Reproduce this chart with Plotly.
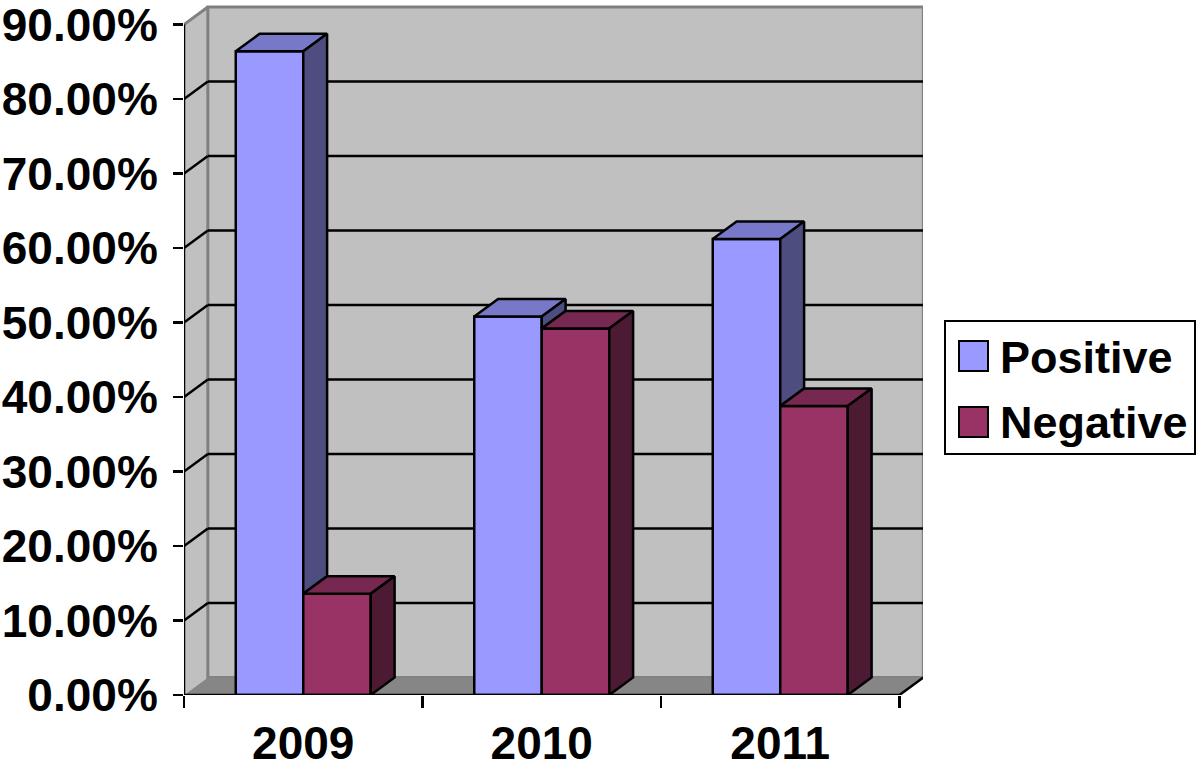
import plotly.graph_objects as go

# ---- data ----
categories = ["2009", "2010", "2011"]
positive = [86.4, 50.8, 61.2]
negative = [13.6, 49.2, 38.8]
y_ticks = [0, 10, 20, 30, 40, 50, 60, 70, 80, 90]
y_ticktext = ["%.2f%%" % v for v in y_ticks]
series_names = ["Positive", "Negative"]

# ---- style ----
POS_FRONT, POS_TOP, POS_SIDE = "#9999FF", "#7878C8", "#4D4D80"
NEG_FRONT, NEG_TOP, NEG_SIDE = "#993366", "#772850", "#4D1A33"
WALL, FLOOR, EDGE = "#C0C0C0", "#868686", "#808080"
BW = 0.283          # bar width in category units
DX, DY = 0.1, 2.35  # depth offset (x in category units, y in value units)
LW = 2.5
FONT = dict(family="Liberation Sans, Arial, sans-serif", size=46, color="black", weight="bold")
LEG_FONT = dict(FONT, size=45)

L, R, T, B = 184, 277, 4, 80
W, H = 1200, 775
pw, ph = W - L - R, H - T - B
x_min = -0.5
x_max = x_min + pw / 238.5
y_max = ph / 7.45
ymax_axis = y_ticks[-1]
n = len(categories)
xs = list(range(n))

fig = go.Figure()

# front faces
fig.add_trace(go.Bar(x=xs, y=positive, width=BW, offset=-BW, name=series_names[0],
                     marker=dict(color=POS_FRONT, line=dict(color="black", width=LW)),
                     showlegend=False))
fig.add_trace(go.Bar(x=xs, y=negative, width=BW, offset=0, name=series_names[1],
                     marker=dict(color=NEG_FRONT, line=dict(color="black", width=LW)),
                     showlegend=False))

def poly(px, py, color):
    fig.add_trace(go.Scatter(x=px + [px[0]], y=py + [py[0]], mode="lines", fill="toself",
                             fillcolor=color, line=dict(color="black", width=LW),
                             hoverinfo="skip", showlegend=False))

# positive tops and (visible part of) sides
for i in xs:
    xl, xr = i - BW, i
    v = positive[i]
    poly([xl, xr, xr + DX, xl + DX], [v, v, v + DY, v + DY], POS_TOP)
    base = min(negative[i], v)
    poly([xr, xr + DX, xr + DX, xr], [base, base + DY, v + DY, v], POS_SIDE)
# negative tops and sides
for i in xs:
    xl, xr = i, i + BW
    v = negative[i]
    poly([xl, xr, xr + DX, xl + DX], [v, v, v + DY, v + DY], NEG_TOP)
    poly([xr, xr + DX, xr + DX, xr], [0, DY, v + DY, v], NEG_SIDE)

shapes = []
xa, xb = -0.5, n - 0.5
# left wall
shapes.append(dict(type="path", layer="below", xref="x", yref="y",
                   path=f"M{xa},0 L{xa+DX},{DY} L{xa+DX},{ymax_axis+DY} L{xa},{ymax_axis} Z",
                   fillcolor=WALL, line=dict(width=0)))
# back wall
shapes.append(dict(type="rect", layer="below", xref="x", yref="y",
                   x0=xa + DX, x1=xb + DX, y0=DY, y1=ymax_axis + DY,
                   fillcolor=WALL, line=dict(color=EDGE, width=3)))
# left wall top edge
shapes.append(dict(type="line", layer="below", xref="x", yref="y",
                   x0=xa, y0=ymax_axis, x1=xa + DX, y1=ymax_axis + DY,
                   line=dict(color=EDGE, width=3)))
# floor
shapes.append(dict(type="path", layer="below", xref="x", yref="y",
                   path=f"M{xa},0 L{xb},0 L{xb+DX},{DY} L{xa+DX},{DY} Z",
                   fillcolor=FLOOR, line=dict(width=0)))
# gridlines
for v in y_ticks[1:-1]:
    shapes.append(dict(type="line", layer="below", xref="x", yref="y",
                       x0=xa + DX, y0=v + DY, x1=xb + DX, y1=v + DY,
                       line=dict(color="black", width=LW)))
    shapes.append(dict(type="line", layer="below", xref="x", yref="y",
                       x0=xa, y0=v, x1=xa + DX, y1=v + DY,
                       line=dict(color="black", width=LW)))
# floor right diagonal, axis lines
shapes.append(dict(type="line", layer="below", xref="x", yref="y",
                   x0=xb, y0=0, x1=xb + DX, y1=DY, line=dict(color="black", width=LW)))
shapes.append(dict(type="line", layer="above", xref="x", yref="y",
                   x0=xa, y0=0, x1=xb, y1=0, line=dict(color="black", width=LW)))
shapes.append(dict(type="line", layer="above", xref="x", yref="y",
                   x0=xa, y0=0, x1=xa, y1=ymax_axis, line=dict(color="black", width=LW)))

# legend (manual, pixel-positioned)
def px2x(p):
    return (p - L) / pw
def py2y(p):
    return (H - B - p) / ph

shapes.append(dict(type="rect", xref="paper", yref="paper",
                   x0=px2x(945), x1=px2x(1195), y0=py2y(454), y1=py2y(321),
                   fillcolor="white", line=dict(color="black", width=2)))
annotations = []
leg_colors = [POS_FRONT, NEG_FRONT]
leg_cy = [356, 422]
for name, col, cy in zip(series_names, leg_colors, leg_cy):
    shapes.append(dict(type="rect", xref="paper", yref="paper",
                       x0=px2x(959), x1=px2x(988), y0=py2y(cy + 15), y1=py2y(cy - 15),
                       fillcolor=col, line=dict(color="black", width=2)))
    annotations.append(dict(xref="paper", yref="paper", x=px2x(998), y=py2y(cy + 1),
                            xanchor="left", yanchor="middle", text=name, showarrow=False,
                            font=LEG_FONT))

fig.update_layout(
    width=W, height=H,
    margin=dict(l=L, r=R, t=T, b=B, autoexpand=False),
    paper_bgcolor="white", plot_bgcolor="rgba(0,0,0,0)",
    barmode="overlay",
    showlegend=False,
    hovermode=False,
    shapes=shapes, annotations=annotations,
    xaxis=dict(range=[x_min, x_max], tickvals=[-0.5 + k for k in range(n + 1)],
               showticklabels=False, ticks="outside", ticklen=12, tickwidth=LW,
               tickcolor="black", showgrid=False, zeroline=False, showline=False,
               automargin=False, fixedrange=True),
    xaxis2=dict(range=[x_min, x_max], overlaying="x", side="bottom",
                tickvals=xs, ticktext=categories, ticks="", tickfont=FONT,
                ticklabelstandoff=17, ticklabeloverflow="allow", automargin=False,
                showgrid=False, zeroline=False, showline=False),
    yaxis=dict(range=[0, y_max], tickvals=y_ticks, ticktext=y_ticktext, tickfont=FONT,
               ticks="outside", ticklen=10, tickwidth=LW, tickcolor="black",
               ticklabelstandoff=6, ticklabeloverflow="allow", automargin=False,
               showgrid=False, zeroline=False, showline=False),
)
# dummy invisible trace to activate xaxis2
fig.add_trace(go.Scatter(x=xs, y=[0] * n, xaxis="x2", mode="markers",
                         marker=dict(opacity=0), hoverinfo="skip", showlegend=False))

fig.write_html("out.html", config={"displayModeBar": False, "staticPlot": True},
               post_script="document.body.style.margin='0px';document.body.style.padding='0px';")
